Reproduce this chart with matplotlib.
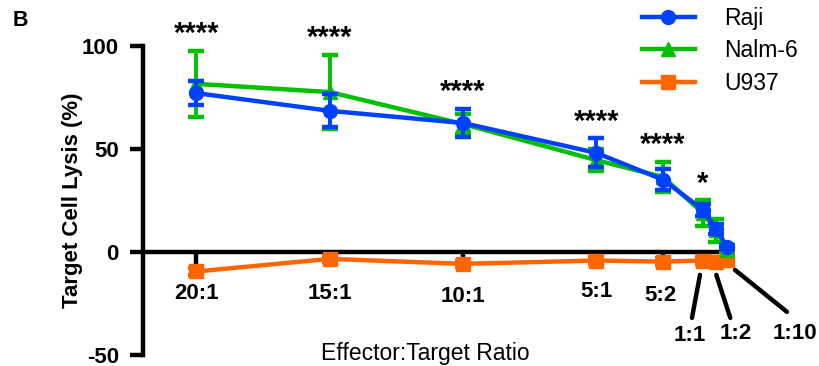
import matplotlib
matplotlib.use("Agg")
import matplotlib.pyplot as plt
from matplotlib.transforms import offset_copy

plt.rcParams['font.family'] = ['Liberation Sans', 'DejaVu Sans']

# -----------------------------
# data
# -----------------------------
ratio_labels = ['20:1', '15:1', '10:1', '5:1', '5:2', '1:1', '1:2', '1:10']
ratio_values = [20, 15, 10, 5, 2.5, 1, 0.5, 0.1]

raji = [77, 68.4, 62.5, 48, 35, 20.4, 11.2, 2.4]
raji_err = [6, 8, 7, 7, 5, 3, 2.5, 1]

nalm6 = [81.5, 77.5, 62, 44.5, 36.3, 18.8, 10.5, 1]
nalm6_err = [16, 18, 5, 5.5, 7.5, 6.2, 5.5, 1]

u937 = [-9.5, -3.4, -5.8, -4.2, -4.7, -4.2, -5, -3.9]
u937_err = [1.5, 1.5, 1.5, 1.5, 1.5, 1.5, 1.5, 1.5]

signif = ['****', '****', '****', '****', '****', '*', '', '']

# -----------------------------
# figure
# -----------------------------
fig = plt.figure(figsize=(8.2, 3.66), dpi=100)
ax = fig.add_axes([0.1744, 0.0301, 0.7037, 0.8451])

LW = 3.2
series = [
    ('U937', u937, u937_err, '#FF6600', 's', 10.5),
    ('Nalm-6', nalm6, nalm6_err, '#00C000', '^', 10),
    ('Raji', raji, raji_err, '#0040FF', 'o', 10),
]
handles = {}
for i, (name, vals, errs, col, mk, ms) in enumerate(series):
    eb = ax.errorbar(ratio_values, vals, yerr=errs, color=col, marker=mk,
                     markersize=ms, lw=LW, elinewidth=2.8, capsize=5.5,
                     capthick=3.2, zorder=3 + i, label=name)
    for art in eb.get_children():
        art.set_clip_on(False)
    handles[name] = eb[0]

ax.set_xlim(22, 0.36)
ax.set_ylim(-50, 100)

for s in ['top', 'right']:
    ax.spines[s].set_visible(False)
ax.spines['left'].set_linewidth(3.2)
ax.spines['bottom'].set_linewidth(3.2)
ax.spines['bottom'].set_position(('data', 0))
ax.spines['left'].set_bounds(-50, 100)

ax.set_yticks([-50, 0, 50, 100])
ax.set_yticklabels(['-50', '0', '50', '100'], fontsize=16, fontweight='bold')
ax.tick_params(axis='y', length=9.4, width=3.2, pad=8)

ax.set_xticks(ratio_values[:5])
ax.set_xticklabels([])
ax.tick_params(axis='x', length=9, width=3.2)

# x tick labels (custom, some with leader lines)
label_off = [(0, -42), (0, -42), (0, -45), (0, -40), (-3, -44),
             (-13, -84), (19, -82), (68, -82)]
leaders = {
    '1:1': ((-3, -23), (-11, -66)),
    '1:2': ((0, -23), (14, -66)),
    '1:10': ((8, -18), (60, -60)),
}
for lab, xv, (dx, dy) in zip(ratio_labels, ratio_values, label_off):
    tr = offset_copy(ax.transData, fig=fig, x=dx, y=dy, units='dots')
    ax.text(xv, 0, lab, transform=tr, ha='center', va='center',
            fontsize=16, fontweight='bold', clip_on=False)
    if lab in leaders:
        (x1, y1), (x2, y2) = leaders[lab]
        t1 = offset_copy(ax.transData, fig=fig, x=x1, y=y1, units='dots')
        t2 = offset_copy(ax.transData, fig=fig, x=x2, y=y2, units='dots')
        ax.annotate('', xy=(xv, 0), xycoords=t1, xytext=(xv, 0), textcoords=t2,
                    arrowprops=dict(arrowstyle='-', lw=3.2, color='black',
                                    shrinkA=0, shrinkB=0), annotation_clip=False)

# significance stars
for xv, s, a, ea, b, eb_ in zip(ratio_values, signif, raji, raji_err, nalm6, nalm6_err):
    if not s:
        continue
    top = max(a + ea, b + eb_)
    ax.annotate(s, xy=(xv, top), xytext=(0, 12), textcoords='offset points',
                ha='center', va='center', fontsize=21, fontweight='bold',
                annotation_clip=False)

ax.set_ylabel('Target Cell Lysis (%)', fontsize=16, fontweight='bold')
ax.yaxis.set_label_coords(-0.104, 0.5)

ax.text(0.49, -0.016, 'Effector:Target Ratio', transform=ax.transAxes,
        ha='center', va='baseline', fontsize=16.5)

fig.text(13 / 820, 1 - 20 / 366, 'B', fontsize=15.5, fontweight='bold', va='center')

leg = fig.legend([handles['Raji'], handles['Nalm-6'], handles['U937']],
                 ['Raji', 'Nalm-6', 'U937'],
                 loc='upper left', bbox_to_anchor=(0.783, 0.98),
                 frameon=False, fontsize=16.5, handlelength=2.3,
                 handletextpad=1.3, labelspacing=0.4, borderpad=0,
                 borderaxespad=0)

fig.savefig('out.png', dpi=100)
